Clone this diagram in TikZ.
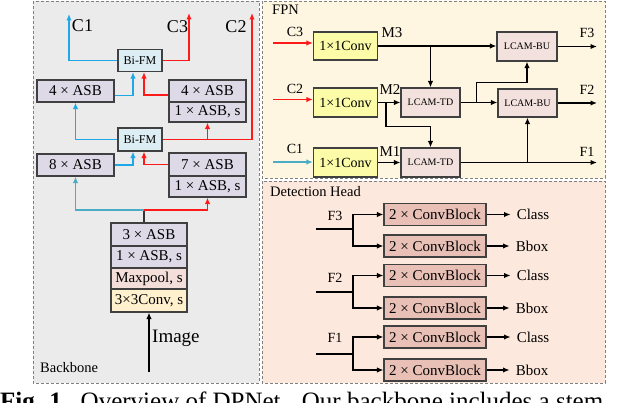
\documentclass[tikz,border=0pt]{standalone}
\usepackage{fontspec}
\setmainfont{Liberation Serif}
\usetikzlibrary{arrows.meta}
\definecolor{bbgray}{HTML}{EBEBEB}
\definecolor{fpncream}{HTML}{FEF6E1}
\definecolor{headpeach}{HTML}{FCE8DC}
\definecolor{asbfill}{HTML}{DDD9E6}
\definecolor{bifmfill}{HTML}{DCEEF4}
\definecolor{poolfill}{HTML}{F3DEDA}
\definecolor{convfill}{HTML}{FFF1CE}
\definecolor{onefill}{HTML}{FCFCA8}
\definecolor{lcamfill}{HTML}{F2E1DD}
\definecolor{cbfill}{HTML}{E9C0B6}
\definecolor{bluehi}{HTML}{1EA8E6}
\definecolor{bluelo}{HTML}{4BACC6}
\definecolor{redln}{HTML}{FF1A1A}
\begin{document}
\begin{tikzpicture}[x=1pt, y=-1pt,
        panel/.style={draw=gray, dash pattern=on 3pt off 2pt, line width=0.8pt},
        plabel/.style={anchor=west, inner sep=0pt, font=\fontsize{14.5}{16}\selectfont},
        lab/.style={inner sep=0pt, font=\fontsize{14}{16}\selectfont},
        clab/.style={inner sep=0pt, font=\fontsize{18}{20}\selectfont},
        box/.style={draw=black!75, line width=1.2pt, inner sep=0pt, font=\fontsize{15}{17}\selectfont},
        asb/.style={box, fill=asbfill, minimum width=77pt, minimum height=22pt},
        bifm/.style={box, fill=bifmfill, minimum width=44pt, minimum height=22pt, font=\fontsize{12}{14}\selectfont},
        onebox/.style={box, fill=onefill, minimum width=64pt, minimum height=28pt, font=\fontsize{14}{16}\selectfont},
        lcam/.style={box, fill=lcamfill, minimum width=59pt, minimum height=29pt, font=\fontsize{10}{12}\selectfont},
        cb/.style={box, fill=cbfill, minimum width=102pt, minimum height=22pt},
        outl/.style={inner sep=0pt, inner xsep=6pt, font=\fontsize{15}{17}\selectfont},
        arr/.style={line width=1.5pt, -{Latex[length=6.5pt,width=5.5pt]}},
        bhi/.style={arr, draw=bluehi},
        blo/.style={arr, draw=bluelo},
        rln/.style={arr, draw=redln}]
    \useasboundingbox (0,0) rectangle (640,403);
    % panels
    \filldraw[panel, fill=bbgray] (33,1) rectangle (259,383);
    \filldraw[panel, fill=fpncream] (262,1) rectangle (605,178);
    \filldraw[panel, fill=headpeach] (262,181) rectangle (605,383);
    \node[plabel] (bblab) at (40,368) {Backbone};
    \node[plabel] (fpnlab) at (272,10) {FPN};
    \node[plabel] (headlab) at (270,192) {Detection Head};

    % backbone
    \node[asb] (l4) at (75.5,91) {4 × ASB};
    \node[asb] (r4) at (207.5,91) {4 × ASB};
    \node[asb, minimum height=20pt] (r4s) at (207.5,112) {1 × ASB, s};
    \node[bifm] (fmt) at (140,60.5) {Bi-FM};
    \node[bifm, minimum height=23pt] (fmb) at (140,139.5) {Bi-FM};
    \node[asb] (l8) at (75.5,165) {8 × ASB};
    \node[asb, minimum height=23pt] (r7) at (207.5,164.5) {7 × ASB};
    \node[asb, minimum height=21pt] (r7s) at (207.5,186.5) {1 × ASB, s};
    \node[asb, minimum width=76pt, minimum height=23pt] (s3) at (149,234.5) {3 × ASB};
    \node[asb, minimum width=76pt] (s1) at (149,257) {1 × ASB, s};
    \node[box, fill=poolfill, minimum width=76pt, minimum height=21pt] (pool) at (149,278.5) {Maxpool, s};
    \node[box, fill=convfill, minimum width=76pt, minimum height=23pt] (sconv) at (149,300.5) {3×3Conv, s};

    \coordinate (c1) at (69,14);
    \coordinate (c3) at (189,13);
    \coordinate (c2) at (252,13);
    \draw[bhi] (fmt.west) -| (c1);
    \draw[rln] (fmt.east) -| (c3);
    \draw[rln] (fmb.east) -| (c2);
    \draw[rln] (fmb.east) -| (r4s.south);
    \node[clab] (c1lab) at (82.5,26) {C1};
    \node[clab] (c3lab) at (177.5,27) {C3};
    \node[clab] (c2lab) at (236,27) {C2};
    \draw[bhi] ([yshift=-4.5pt]l4.east) -| ([xshift=-7pt]fmt.south);
    \draw[rln] ([yshift=-4pt]r4.west) -| ([xshift=4pt]fmt.south);
    \draw[bhi] (fmb.west) -| (l4.south);
    \draw[bhi] (l8.east) -| ([xshift=-7pt]fmb.south);
    \draw[rln] (r7.west) -| ([xshift=4pt]fmb.south);
    \coordinate (split) at (144,210);
    \draw[line width=1.5pt, black!80] ([xshift=-5pt]s3.north) -- (split);
    \draw[blo] (split) -| (l8.south);
    \draw[rln] (split) -| (r7s.south);
    \coordinate (img) at (149,372);
    \draw[arr] (img) -- (sconv.south);
    \node[anchor=west, inner sep=0pt, font=\fontsize{19}{22}\selectfont] (imglab) at (152,338) {Image};

    % FPN
    \node[onebox] (p3) at (345.5,46) {1×1Conv};
    \node[onebox, minimum height=29pt] (p2) at (345.5,102.5) {1×1Conv};
    \node[onebox, minimum height=29pt] (p1) at (345.5,162.5) {1×1Conv};
    \node[lcam] (td2) at (430.5,102.5) {LCAM-TD};
    \node[lcam] (td1) at (430.5,162.5) {LCAM-TD};
    \node[lcam, minimum width=60pt] (bu3) at (527,46.5) {LCAM-BU};
    \node[lcam, minimum height=28pt] (bu2) at (527.5,103) {LCAM-BU};

    \coordinate (in3) at (273,43);
    \coordinate (in2) at (273,99.5);
    \coordinate (in1) at (273,162);
    \draw[rln] (in3) -- (in3 -| p3.west);
    \draw[rln] (in2) -- (in2 -| p2.west);
    \draw[blo] (in1) -- (in1 -| p1.west);
    \node[lab] (fc3) at (295,32) {C3};
    \node[lab] (fc2) at (295,89) {C2};
    \node[lab] (fc1) at (295,149) {C1};
    \node[lab, font=\fontsize{15}{17}\selectfont] (m3) at (392,33) {M3};
    \node[lab, font=\fontsize{15}{17}\selectfont] (m2) at (390,90) {M2};
    \node[lab, font=\fontsize{15}{17}\selectfont] (m1) at (390,152) {M1};

    \draw[arr] (p3.east) -- (p3.east -| bu3.west);
    \draw[arr] (p3.east -| td2.north) -- (td2.north);
    \draw[arr] (p2.east) -- (td2.west);
    \draw[arr] ([xshift=8pt]p2.east) -- ++(0,24) -| (td1.north);
    \draw[arr] (p1.east) -- (td1.west);
    \draw[arr] (td2.east) -- (td2.east -| bu2.west);
    \draw[arr] ([xshift=16pt]td2.east) -- ++(0,-20) -| (bu3.south);
    \coordinate (f3) at (597,46.5);
    \coordinate (f2) at (597,103);
    \coordinate (f1) at (597,162.5);
    \draw[arr] (bu3.east) -- (f3);
    \draw[arr] (bu2.east) -- (f2);
    \draw[arr] (td1.east) -- (f1);
    \draw[arr] (td1.east -| bu2.south) -- (bu2.south);
    \node[lab] (ff3) at (587,33) {F3};
    \node[lab] (ff2) at (587,90) {F2};
    \node[lab] (ff1) at (587,152) {F1};

    % detection head
    \node[cb] (cb1) at (435,214.5) {2 × ConvBlock};
    \node[cb] (cb2) at (435,246) {2 × ConvBlock};
    \node[cb] (cb3) at (435,275.5) {2 × ConvBlock};
    \node[cb] (cb4) at (435,308) {2 × ConvBlock};
    \node[cb] (cb5) at (435,337) {2 × ConvBlock};
    \node[cb] (cb6) at (435,370) {2 × ConvBlock};
    \node[outl] (o1) at (533,214.5) {Class};
    \node[outl] (o2) at (532,246) {Bbox};
    \node[outl] (o3) at (533,275.5) {Class};
    \node[outl] (o4) at (532,308) {Bbox};
    \node[outl] (o5) at (533,337) {Class};
    \node[outl] (o6) at (532,370) {Bbox};
    \draw[arr] (cb1.east) -- (o1);
    \draw[arr] (cb2.east) -- (o2);
    \draw[arr] (cb3.east) -- (o3);
    \draw[arr] (cb4.east) -- (o4);
    \draw[arr] (cb5.east) -- (o5);
    \draw[arr] (cb6.east) -- (o6);

    \coordinate (h3) at (316,229);
    \coordinate (h2) at (316,292);
    \coordinate (h1) at (316,354);
    \draw[line width=1.5pt] (h3) -- ++(37,0) coordinate (h3s);
    \draw[line width=1.5pt] (h2) -- ++(37,0) coordinate (h2s);
    \draw[line width=1.5pt] (h1) -- ++(37,0) coordinate (h1s);
    \draw[arr] (h3s) |- (cb1.west);
    \draw[arr] (h3s) |- (cb2.west);
    \draw[arr] (h2s) |- (cb3.west);
    \draw[arr] (h2s) |- (cb4.west);
    \draw[arr] (h1s) |- (cb5.west);
    \draw[arr] (h1s) |- (cb6.west);
    \node[lab] (hf3) at (335,216) {F3};
    \node[lab] (hf2) at (335,278) {F2};
    \node[lab] (hf1) at (335,338) {F1};

    % caption
    \node[anchor=base west, inner sep=0pt, font=\fontsize{25}{30}\selectfont] (cap) at (0,409) {\textbf{Fig. 1.}\hspace{0.5em}Overview of DPNet.\hspace{0.6em}Our backbone includes a stem};
\end{tikzpicture}
\end{document}
